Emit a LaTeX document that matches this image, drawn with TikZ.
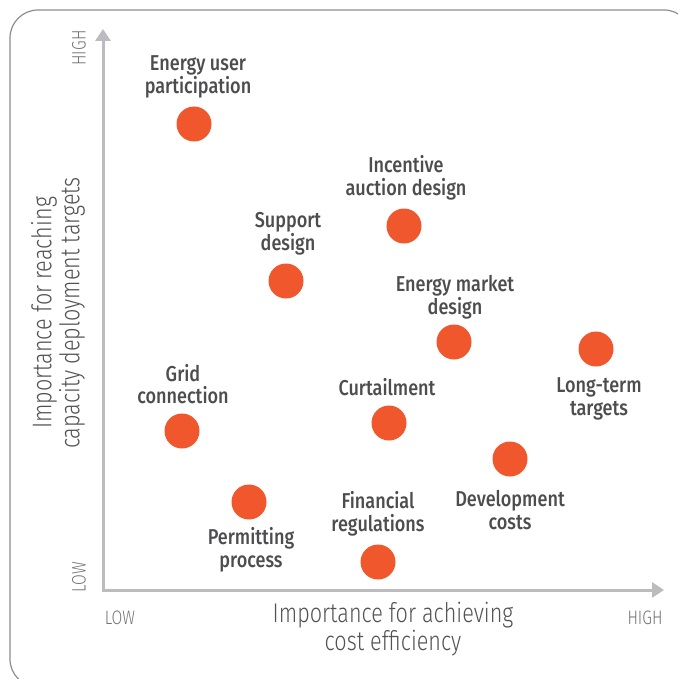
\documentclass[tikz,border=0pt]{standalone}
\usepackage{fontspec}
\setmainfont{Fira Sans Medium}[FakeStretch=0.84]
\newfontfamily\axisfont{Fira Sans Light}[FakeStretch=0.80]
\usetikzlibrary{arrows.meta,positioning}
\definecolor{dotorange}{HTML}{F1572D}
\definecolor{axisgray}{HTML}{BCBCC0}
\definecolor{textgray}{HTML}{4D4D4F}
\begin{document}
\begin{tikzpicture}
	[x=1pt,y=-1pt,
	dot node/.style={shape=circle,fill=dotorange,minimum size=35pt,inner sep=0pt},
	label node/.style={align=center,text=textgray,font=\fontsize{21.5}{22.5}\selectfont,inner sep=0pt},
	axis title/.style={align=center,text=black!68,font=\axisfont\fontsize{27}{28}\selectfont,inner sep=0pt},
	axis end/.style={text=black!55,font=\axisfont\fontsize{19.5}{20}\selectfont,inner sep=0pt},
	axis line/.style={draw=axisgray,line width=3pt,-{Triangle[length=12pt,width=15pt]}}]
	\useasboundingbox (0,0) rectangle (678,679);
	\clip (0,0) rectangle (678,679);
	\draw [black!45,line width=1.2pt,rounded corners=28pt] (10,10) rectangle (692,687);
	
	% axes
	\coordinate (origin) at (103,590);
	\coordinate (ytop) at (103,29);
	\coordinate (xend) at (664,590);
	\draw [axis line] ([xshift=-1.5pt]origin) -- (xend);
	\draw [axis line] ([yshift=1.5pt]origin) -- (ytop);
	
	\node [axis end,rotate=90] (yhigh) at (79,48) {HIGH};
	\node [axis end,rotate=90] (ylow) at (79,577) {LOW};
	\node [axis end] (xlow) at (120,618) {LOW};
	\node [axis end] (xhigh) at (645,618) {HIGH};
	
	\node [axis title] (xtitle) at (393,629) {Importance for achieving\\cost efficiency};
	\node [axis title,rotate=90] (ytitle) at (58,313) {Importance for reaching\\capacity deployment targets};
	
	% points
	\node [dot node] (user) at (194,124) {};
	\node [dot node] (auction) at (404,226) {};
	\node [dot node] (support) at (286,281) {};
	\node [dot node] (market) at (454,342) {};
	\node [dot node] (longterm) at (596,349) {};
	\node [dot node] (grid) at (182,431) {};
	\node [dot node] (curtail) at (389,423) {};
	\node [dot node] (devcost) at (510,459) {};
	\node [dot node] (permit) at (249,502) {};
	\node [dot node] (finance) at (378,562) {};
	
	% labels
	\node [label node] (user label) at (198,77) {Energy user\\participation};
	\node [label node] (auction label) at (406,178) {Incentive\\auction design};
	\node [label node] (support label) at (288,234) {Support\\design};
	\node [label node] (market label) at (455,297) {Energy market\\design};
	\node [label node] (longterm label) at (599,399) {Long-term\\targets};
	\node [label node] (grid label) at (183,384) {Grid\\connection};
	\node [label node] (curtail label) at (387,387) {Curtailment};
	\node [label node] (devcost label) at (510,510) {Development\\costs};
	\node [label node] (permit label) at (251,550) {Permitting\\process};
	\node [label node] (finance label) at (378,514) {Financial\\regulations};
\end{tikzpicture}
\end{document}
